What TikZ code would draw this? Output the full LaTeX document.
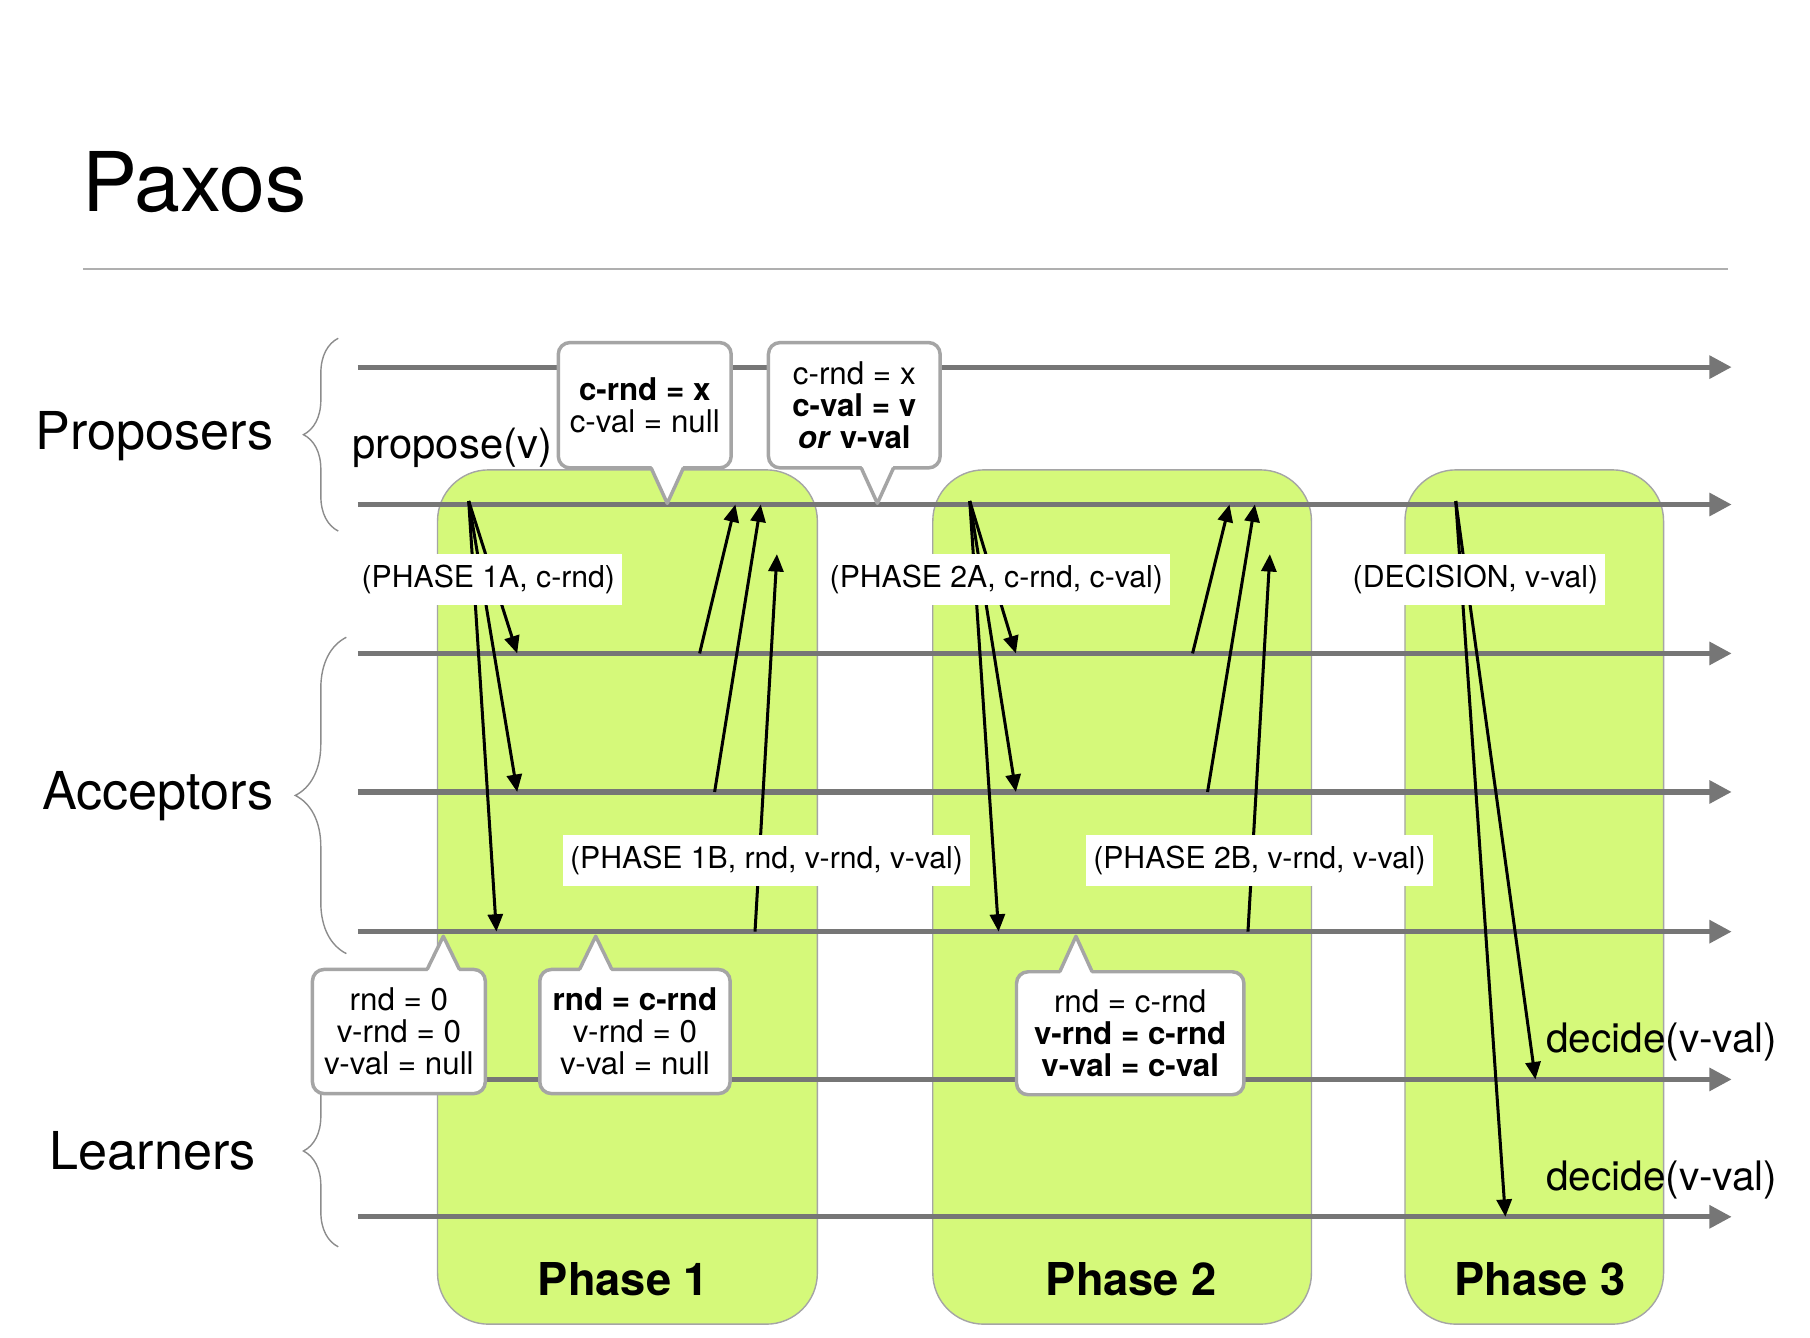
\documentclass[tikz,border=0pt]{standalone}
\usepackage{fontspec}
\setmainfont{TeX Gyre Heros}
\usetikzlibrary{arrows.meta,calc,decorations.pathreplacing}

\definecolor{phasegreen}{RGB}{213,249,122}
\definecolor{linegray}{RGB}{118,118,118}
\definecolor{boxgray}{RGB}{165,165,165}
\definecolor{bracegray}{RGB}{140,140,140}
\definecolor{rulegray}{RGB}{175,175,175}

\begin{document}
\begin{tikzpicture}[x=0.4975pt, y=-0.4975pt,
    timeline/.style={draw=linegray, line width=2.2pt, -{Triangle[length=9.6pt,width=9.6pt]}},
    msg/.style={draw=black, line width=1.3pt, -{Triangle[length=7.5pt,width=6.5pt]}},
    phasebox/.style={draw=boxgray, line width=0.6pt, fill=phasegreen, rounded corners=22pt},
    phaselabel/.style={font=\bfseries\fontsize{19.5}{22}\selectfont},
    msglabel/.style={fill=white, inner xsep=3pt, minimum height=22pt, font=\fontsize{13}{15}\selectfont},
    statebox/.style={draw=boxgray, fill=white, line width=1.5pt, rounded corners=5pt,
      align=center, inner sep=2pt, font=\fontsize{13.5}{13.8}\selectfont},
    pointer/.style={draw=boxgray, line width=1.5pt, line join=round},
    group/.style={anchor=east, inner sep=0pt, font=\fontsize{22.5}{26}\selectfont},
    grpbrace/.style={draw=bracegray, line width=0.6pt, decorate, decoration={brace, amplitude=#1}},
    ]
  \fill[white] (0pt,0pt) rectangle (780pt,-576.5pt);
  \useasboundingbox (0pt,0pt) rectangle (780pt,-576.5pt);

  % title
  \node[anchor=base west, inner sep=0pt, font=\fontsize{35.5}{40}\selectfont] (title) at (71,183) {Paxos};
  \draw[draw=rulegray, line width=0.7pt] (72,233) -- (1497,233);

  % phases
  \draw[phasebox] (379,407) rectangle (708,1147);
  \draw[phasebox] (808,407) rectangle (1136,1147);
  \draw[phasebox] (1217,407) rectangle (1441,1147);
  \node[phaselabel] (ph1) at (540,1108) {Phase 1};
  \node[phaselabel] (ph2) at (980,1108) {Phase 2};
  \node[phaselabel] (ph3) at (1334,1108) {Phase 3};

  % roles
  \draw[grpbrace=15pt] (293,460) -- (293,293);
  \node[group] (proposers) at (237,378) {Proposers};
  \draw[grpbrace=22pt] (300,826) -- (300,552);
  \node[group] (acceptors) at (237,690) {Acceptors};
  \draw[grpbrace=15pt] (293,1080) -- (293,914);
  \node[group] (learners) at (222,997) {Learners};

  % timelines
  \foreach \tl/\y in {prop1/318, prop2/437, acc1/566, acc2/686, acc3/807, lrn1/935, lrn2/1054} {
    \coordinate (\tl) at (310,\y);
    \draw[timeline] (\tl) -- (1500,0 |- \tl);
  }

  % phase 1
  \coordinate (p1send) at (406,434);
  \foreach \x/\tl in {448/acc1, 448/acc2, 430/acc3}
    \draw[msg] (p1send) -- (\x,0 |- \tl);
  \coordinate (p1late) at (673,480);
  \draw[msg] (606,0 |- acc1) -- (637,0 |- prop2);
  \draw[msg] (619,0 |- acc2) -- (659,0 |- prop2);
  \draw[msg] (654,0 |- acc3) -- (p1late);

  % phase 2
  \coordinate (p2send) at (840,434);
  \foreach \x/\tl in {880/acc1, 880/acc2, 865/acc3}
    \draw[msg] (p2send) -- (\x,0 |- \tl);
  \coordinate (p2late) at (1100,480);
  \draw[msg] (1033,0 |- acc1) -- (1065,0 |- prop2);
  \draw[msg] (1046,0 |- acc2) -- (1087,0 |- prop2);
  \draw[msg] (1081,0 |- acc3) -- (p2late);

  % phase 3
  \coordinate (p3send) at (1261,434);
  \draw[msg] (p3send) -- (1330,0 |- lrn1);
  \draw[msg] (p3send) -- (1304,0 |- lrn2);

  % messages
  \node[msglabel] (m1a) at (423,502) {(PHASE 1A, c-rnd)};
  \node[msglabel] (m2a) at (863,502) {(PHASE 2A, c-rnd, c-val)};
  \node[msglabel] (mdec) at (1278,502) {(DECISION, v-val)};
  \node[msglabel] (m1b) at (664,745) {(PHASE 1B, rnd, v-rnd, v-val)};
  \node[msglabel] (m2b) at (1091,745) {(PHASE 2B, v-rnd, v-val)};

  % state boxes
  \node[statebox, minimum width=74.5pt, minimum height=54pt] (state1) at (558.5,351)
    {\textbf{c-rnd = x}\\c-val = null};
  \node[statebox, minimum width=74pt, minimum height=54pt] (state2) at (740,351)
    {c-rnd = x\\\textbf{c-val = v}\\\textbf{\textit{or} v-val}};
  \node[statebox, minimum width=74.5pt, minimum height=53.5pt] (state3) at (345.5,893.5)
    {rnd = 0\\v-rnd = 0\\v-val = null};
  \node[statebox, minimum width=82pt, minimum height=53.5pt] (state4) at (550,893.5)
    {\textbf{rnd = c-rnd}\\v-rnd = 0\\v-val = null};
  \node[statebox, minimum width=98pt, minimum height=53pt] (state5) at (979,895)
    {rnd = c-rnd\\\textbf{v-rnd = c-rnd}\\\textbf{v-val = c-val}};
  \coordinate (statetip1) at (578,436);
  \coordinate (statetip2) at (760,436);
  \coordinate (statetip3) at (384,811);
  \coordinate (statetip4) at (516,811);
  \coordinate (statetip5) at (932,811);
  \foreach \i/\a/\s in {1/south/-1, 2/south/-1, 3/north/1, 4/north/1, 5/north/1} {
    \fill[white] ($(statetip\i |- state\i.\a)+(-14,4*\s)$) -- (statetip\i)
      -- ($(statetip\i |- state\i.\a)+(14,4*\s)$) -- cycle;
    \draw[pointer] ($(statetip\i |- state\i.\a)+(-14,1.5*\s)$) -- (statetip\i)
      -- ($(statetip\i |- state\i.\a)+(14,1.5*\s)$);
  }

  % calls
  \node[anchor=west, inner sep=0pt, font=\fontsize{18}{20}\selectfont] (propose) at (305,388) {propose(v)};
  \node[anchor=west, inner sep=0pt, font=\fontsize{17.5}{20}\selectfont] (decide1) at (1339,903) {decide(v-val)};
  \node[anchor=west, inner sep=0pt, font=\fontsize{17.5}{20}\selectfont] (decide2) at (1339,1022) {decide(v-val)};
\end{tikzpicture}
\end{document}
